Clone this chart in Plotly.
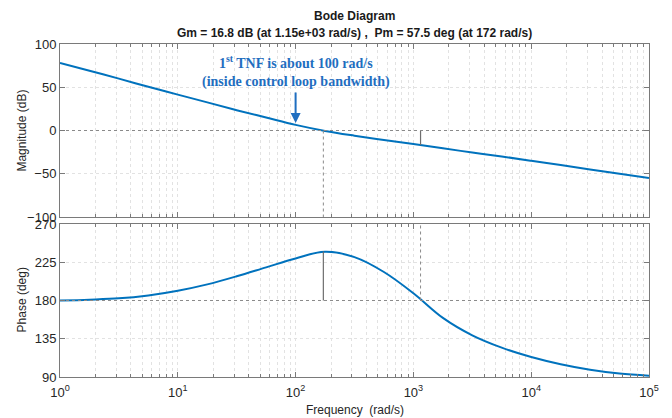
import plotly.graph_objects as go
import numpy as np

# ---- data ----
freq = [1, 1.78, 3.16, 5.62, 10, 17.8, 31.6, 56.2, 100, 178, 316, 562, 1000,
        1780, 3160, 5620, 10000, 17800, 31600, 56200, 100000]
mag_db = [78, 69, 60, 50.5, 41.5, 32.5, 23.5, 15, 6.5, -0.5, -6, -11, -15.5,
          -20.5, -25.5, -30, -35, -40, -45, -50, -55]
phase_deg = [180, 181, 182.5, 186, 191.5, 199, 208.5, 219, 229.5, 237.3, 231, 213.5, 188.5,
             159.5, 139, 124.5, 113.5, 105, 98.5, 94, 91.5]

gm_db, gm_freq = 16.8, 1150
pm_deg, pm_freq = 57.5, 172

mag_ticks = [-100, -50, 0, 50, 100]
phase_ticks = [90, 135, 180, 225, 270]
decades = [0, 1, 2, 3, 4, 5]

blue = "#0072BD"
annot_blue = "#1F6EC0"
axis_col = "#7a7a7a"
grid_col = "#e2e2e2"
font_col = "#262626"

fig = go.Figure()
fig.add_trace(go.Scatter(x=freq, y=mag_db, mode="lines", line=dict(color=blue, width=2, shape="spline"),
                         xaxis="x", yaxis="y", showlegend=False))
fig.add_trace(go.Scatter(x=freq, y=phase_deg, mode="lines", line=dict(color=blue, width=2, shape="spline"),
                         xaxis="x2", yaxis="y2", showlegend=False))

# margin marker lines
fig.add_trace(go.Scatter(x=[gm_freq, gm_freq], y=[0, -gm_db], mode="lines",
                         line=dict(color="#6e6e6e", width=1.2), xaxis="x", yaxis="y", showlegend=False))
fig.add_trace(go.Scatter(x=[pm_freq, pm_freq], y=[0, -100], mode="lines",
                         line=dict(color="#8a8a8a", width=1, dash="dot"), xaxis="x", yaxis="y", showlegend=False))
fig.add_trace(go.Scatter(x=[pm_freq, pm_freq], y=[180, 180 + pm_deg], mode="lines",
                         line=dict(color="#6e6e6e", width=1.2), xaxis="x2", yaxis="y2", showlegend=False))
fig.add_trace(go.Scatter(x=[gm_freq, gm_freq], y=[180, 270], mode="lines",
                         line=dict(color="#8a8a8a", width=1, dash="dot"), xaxis="x2", yaxis="y2", showlegend=False))
fig.add_trace(go.Scatter(x=[1, 1e5], y=[0, 0], mode="lines",
                         line=dict(color="#8a8a8a", width=1, dash="dot"), xaxis="x", yaxis="y", showlegend=False))
fig.add_trace(go.Scatter(x=[1, 1e5], y=[180, 180], mode="lines",
                         line=dict(color="#8a8a8a", width=1, dash="dot"), xaxis="x2", yaxis="y2", showlegend=False))

tickfont = dict(family="Liberation Sans, Arial", size=13, color=font_col)

common_x = dict(type="log", range=[0, 5], showline=True, linecolor=axis_col, linewidth=1, mirror="allticks",
                ticks="inside", ticklen=5, tickcolor=axis_col, showgrid=True, gridcolor=grid_col,
                griddash="dot", gridwidth=1, zeroline=False,
                tickvals=[10 ** d for d in decades],
                minor=dict(ticks="inside", ticklen=3, tickcolor=axis_col, showgrid=True,
                           gridcolor=grid_col, griddash="dot", dtick="D1"))

fig.update_layout(
    width=672, height=418,
    margin=dict(l=60, r=23, t=44, b=41),
    paper_bgcolor="white", plot_bgcolor="white",
    xaxis=dict(**common_x, domain=[0, 1], anchor="y", showticklabels=False),
    xaxis2=dict(**common_x, domain=[0, 1], anchor="y2", ticklabelstandoff=3,
                ticktext=["10<sup>%d</sup>" % d for d in decades], tickfont=tickfont),
    yaxis=dict(domain=[0.4805, 1], range=[-100, 100], tickvals=mag_ticks, anchor="x",
               showline=True, linecolor=axis_col, mirror="allticks", ticks="inside", ticklen=5,
               tickcolor=axis_col, showgrid=True, gridcolor=grid_col, griddash="dot",
               zeroline=False, tickfont=tickfont),
    yaxis2=dict(domain=[0, 0.4595], range=[90, 270], tickvals=phase_ticks, anchor="x2",
                showline=True, linecolor=axis_col, mirror="allticks", ticks="inside", ticklen=5,
                tickcolor=axis_col, showgrid=True, gridcolor=grid_col, griddash="dot",
                zeroline=False, tickfont=tickfont),
)

title_font = dict(family="Liberation Sans, Arial", size=12, color="#1a1a1a")
fig.add_annotation(text="<b>Bode Diagram</b>", xref="paper", yref="paper", x=0.5, y=1.084,
                   xanchor="center", yanchor="middle", showarrow=False, font=title_font)
fig.add_annotation(text="<b>Gm = %.1f dB (at 1.15e+03 rad/s) ,  Pm = %.1f deg (at %d rad/s)</b>" % (gm_db, pm_deg, pm_freq),
                   xref="paper", yref="paper", x=0.5, y=1.033,
                   xanchor="center", yanchor="middle", showarrow=False, font=title_font)

label_font = dict(family="Liberation Sans, Arial", size=12, color=font_col)
fig.add_annotation(text="Magnitude (dB)", xref="paper", yref="paper", x=-0.0645, y=0.74,
                   textangle=-90, xanchor="center", yanchor="middle", showarrow=False, font=label_font)
fig.add_annotation(text="Phase (deg)", xref="paper", yref="paper", x=-0.0645, y=0.23,
                   textangle=-90, xanchor="center", yanchor="middle", showarrow=False, font=label_font)
fig.add_annotation(text="Frequency  (rad/s)", xref="paper", yref="paper", x=0.5, y=-0.1,
                   xanchor="center", yanchor="middle", showarrow=False, font=label_font)

# TNF annotation
tnf_font = dict(family="Liberation Serif, Times New Roman", size=14, color=annot_blue)
fig.add_annotation(text="<b>1<sup>st</sup> TNF is about 100 rad/s</b><br><b>(inside control loop bandwidth)</b>",
                   xref="x", yref="y", x=np.log10(100), y=68, xanchor="center", yanchor="middle",
                   showarrow=False, font=tnf_font)
fig.add_annotation(x=np.log10(100), y=8.7, xref="x", yref="y", ax=0, ay=-32, showarrow=True,
                   arrowhead=2, arrowsize=1, arrowwidth=2, arrowcolor=annot_blue, text="")

fig.write_html("out.html")
